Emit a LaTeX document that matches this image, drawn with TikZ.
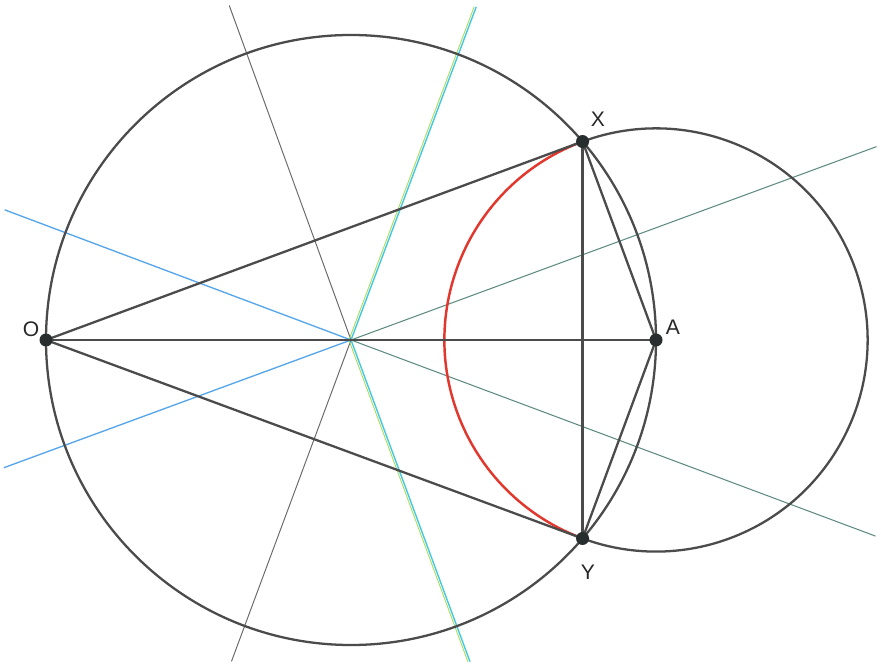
\documentclass[tikz,border=0pt]{standalone}
\usepackage{fontspec}
\setmainfont{Liberation Sans}
\usetikzlibrary{calc}
\begin{document}
\begin{tikzpicture}[x=0.02cm,y=0.02cm,
  main/.style={draw={rgb,255:red,75;green,75;blue,75},line width=1.3pt},
  thin/.style={draw={rgb,255:red,105;green,105;blue,105},line width=0.55pt},
  blueln/.style={draw={rgb,255:red,85;green,165;blue,235},line width=0.75pt},
  tealln/.style={draw={rgb,255:red,95;green,140;blue,130},line width=0.6pt},
  cyanln/.style={draw={rgb,255:red,70;green,200;blue,225},line width=0.8pt},
  yelln/.style={draw={rgb,255:red,170;green,220;blue,90},line width=0.5pt},
  redarc/.style={draw={rgb,255:red,225;green,55;blue,45},line width=1.4pt},
  dot/.style={circle,fill={rgb,255:red,40;green,45;blue,45},inner sep=0pt,minimum size=0.26cm},
  lbl/.style={font=\fontsize{12}{14}\selectfont,text={rgb,255:red,40;green,40;blue,40}}]
\fill[white] (0,0) rectangle (881,666);
\useasboundingbox (0,0) rectangle (881,666);
% centre and key points
\coordinate (C) at (351,326);
\coordinate (Op) at (46,326);
\coordinate (Ap) at (656,326);
\coordinate (Xp) at ($(C)+(40.6:305)$);
\coordinate (Yp) at ($(C)+(-40.6:305)$);
% ray end points
\coordinate (b1) at ($(C)+(200.2:370)$);
\coordinate (b2) at ($(C)+(159.4:370)$);
\coordinate (t1) at ($(C)+(20.2:560)$);
\coordinate (t2) at ($(C)+(-20.5:560)$);
\coordinate (c1) at ($(C)+(69.4:356)$);
\coordinate (c2) at ($(C)+(-69.7:343)$);
\coordinate (g1) at ($(C)+(110:356)$);
\coordinate (g2) at ($(C)+(249.6:343)$);
% lines through centre
\draw[blueln] (C) -- (b1);
\draw[blueln] (C) -- (b2);
\draw[tealln] (C) -- (t1);
\draw[tealln] (C) -- (t2);
\draw[thin] (C) -- (g1);
\draw[thin] (C) -- (g2);
\draw[yelln] ([xshift=-1.2]C) -- ([xshift=-1.2]c1);
\draw[cyanln] (C) -- (c1);
\draw[yelln] ([xshift=-1.2]C) -- ([xshift=-1.2]c2);
\draw[cyanln] (C) -- (c2);
% circles
\draw[main] (C) circle (305);
\draw[main] (Ap) ++(110.3:211.6) arc (110.3:-110.3:211.6);
\draw[redarc] (Ap) ++(110.3:211.6) arc (110.3:249.7:211.6);
% segments
\draw[main] (Op) -- (Xp);
\draw[main] (Op) -- (Yp);
\draw[main] (Op) -- (Ap);
\draw[main] (Xp) -- (Yp);
\draw[main] (Xp) -- (Ap);
\draw[main] (Yp) -- (Ap);
% points
\node[dot] (O) at (Op) {};
\node[dot] (A) at (Ap) {};
\node[dot] (X) at (Xp) {};
\node[dot] (Y) at (Yp) {};
\node[lbl] (Ol) at (31,337) {O};
\node[lbl] (Al) at (673,339) {A};
\node[lbl] (Xl) at (598,547) {X};
\node[lbl] (Yl) at (588,94) {Y};
\end{tikzpicture}
\end{document}
